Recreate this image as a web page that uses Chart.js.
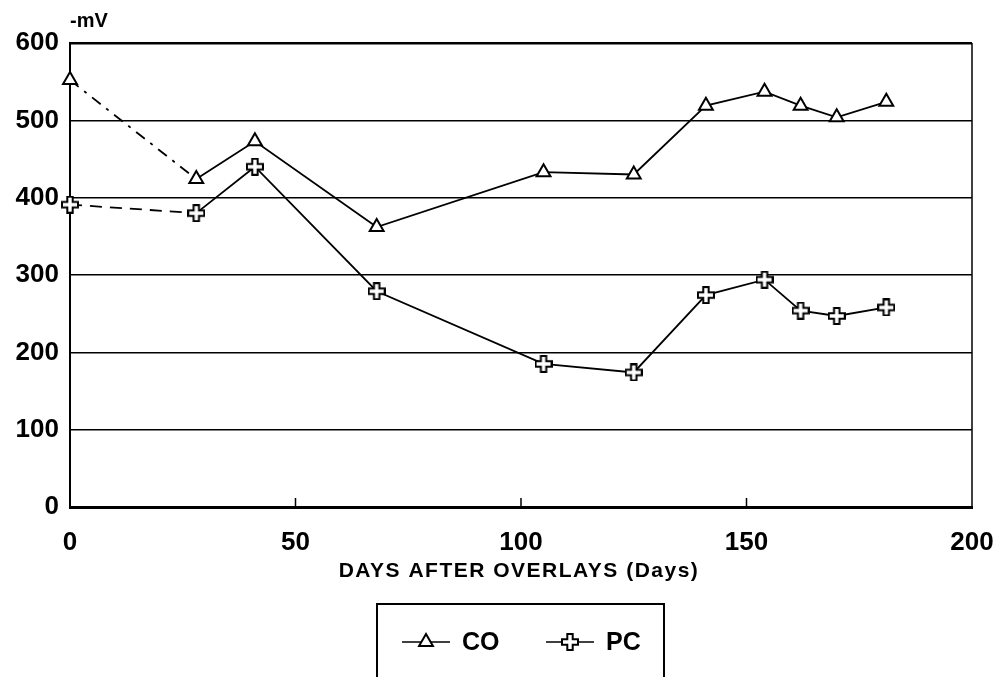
<!DOCTYPE html>
<html>
<head>
<meta charset="utf-8">
<script src="https://cdn.jsdelivr.net/npm/chart.js@4.4.0/dist/chart.umd.min.js"></script>
<style>
  html, body { margin: 0; padding: 0; background: #fff; }
  #wrap { position: relative; width: 1005px; height: 677px; }
</style>
</head>
<body>
<div id="wrap"><canvas id="potential"></canvas></div>
<script>
const days = [0, 28, 41, 68, 105, 125, 141, 154, 162, 170, 181];
const coValues = [552, 424, 473, 362, 433, 430, 519, 537, 519, 504, 524];
const pcValues = [391, 380, 440, 279, 185, 174, 274, 294, 254, 247, 258];
const xTicks = [0, 50, 100, 150, 200];
const seriesNames = ['CO', 'PC'];
const unitLabel = '-mV';
const xTitle = 'DAYS AFTER OVERLAYS (Days)';

const FONT = '"Liberation Sans", Arial, sans-serif';

// hollow plus sign used as the PC marker
function plusMarker(size) {
  const c = document.createElement('canvas');
  c.width = size; c.height = size;
  const g = c.getContext('2d');
  const m = size / 2, a = size * 0.15, e = size / 2 - 1;
  g.beginPath();
  g.moveTo(m - a, m - e); g.lineTo(m + a, m - e); g.lineTo(m + a, m - a);
  g.lineTo(m + e, m - a); g.lineTo(m + e, m + a); g.lineTo(m + a, m + a);
  g.lineTo(m + a, m + e); g.lineTo(m - a, m + e); g.lineTo(m - a, m + a);
  g.lineTo(m - e, m + a); g.lineTo(m - e, m - a); g.lineTo(m - a, m - a);
  g.closePath();
  g.fillStyle = '#fff';
  g.fill();
  g.lineWidth = 2;
  g.strokeStyle = '#000';
  g.stroke();
  return c;
}
const plus = plusMarker(18);

const toPoints = vals => vals.map((v, i) => ({ x: days[i], y: v }));

// the first interval (no reading between day 0 and the first survey) is dashed
const firstGap = pattern => ctx => ctx.p0DataIndex === 0 ? pattern : undefined;

// right border, inward x ticks, unit label, axis title and boxed legend
const extras = {
  id: 'extras',
  afterDraw(chart) {
    const { ctx, chartArea: a, scales: { x } } = chart;
    ctx.save();
    ctx.strokeStyle = '#000';
    ctx.lineWidth = 1.5;
    ctx.beginPath();
    ctx.moveTo(a.right, a.top);
    ctx.lineTo(a.right, a.bottom);
    ctx.stroke();

    xTicks.slice(1, -1).forEach(v => {
      const px = x.getPixelForValue(v);
      ctx.beginPath();
      ctx.moveTo(px, a.bottom);
      ctx.lineTo(px, a.bottom - 9);
      ctx.stroke();
    });

    ctx.fillStyle = '#000';
    ctx.font = 'bold 20px ' + FONT;
    ctx.textAlign = 'left';
    ctx.textBaseline = 'middle';
    ctx.fillText(unitLabel, a.left, 21);

    ctx.font = 'bold 21px ' + FONT;
    ctx.letterSpacing = '1.5px';
    ctx.textAlign = 'center';
    ctx.fillText(xTitle, (a.left + a.right) / 2 - 2, 571);
    ctx.letterSpacing = '0px';

    // legend box, open at the bottom edge of the page
    ctx.lineWidth = 2;
    ctx.beginPath();
    ctx.moveTo(377, 690);
    ctx.lineTo(377, 604);
    ctx.lineTo(664, 604);
    ctx.lineTo(664, 690);
    ctx.stroke();

    const slots = [402, 546];
    chart.data.datasets.forEach((ds, i) => {
      const x0 = slots[i], y0 = 642;
      ctx.lineWidth = 1.6;
      ctx.strokeStyle = '#000';
      ctx.beginPath();
      ctx.moveTo(x0, y0);
      ctx.lineTo(x0 + 48, y0);
      ctx.stroke();
      ctx.fillStyle = '#fff';
      ctx.lineWidth = ds.pointBorderWidth;
      Chart.helpers.drawPoint(ctx, {
        pointStyle: ds.pointStyle, radius: ds.pointRadius,
        borderWidth: ds.pointBorderWidth
      }, x0 + 24, y0);
      ctx.fillStyle = '#000';
      ctx.font = 'bold 25px ' + FONT;
      ctx.textAlign = 'left';
      ctx.fillText(ds.label, x0 + 60, y0 + 1);
    });
    ctx.restore();
  }
};

new Chart(document.getElementById('potential'), {
  type: 'line',
  data: {
    datasets: [
      {
        label: seriesNames[0],
        data: toPoints(coValues),
        borderColor: '#000',
        borderWidth: 1.8,
        clip: false,
        pointStyle: 'triangle',
        pointRadius: 8,
        pointBorderWidth: 2,
        pointBackgroundColor: '#fff',
        pointBorderColor: '#000',
        segment: { borderDash: firstGap([11, 7, 3, 7]) }
      },
      {
        label: seriesNames[1],
        data: toPoints(pcValues),
        borderColor: '#000',
        borderWidth: 1.8,
        clip: false,
        pointStyle: plus,
        pointRadius: 9,
        pointBorderWidth: 2,
        pointBackgroundColor: '#fff',
        pointBorderColor: '#000',
        segment: { borderDash: firstGap([12, 8]) }
      }
    ]
  },
  options: {
    responsive: true,
    maintainAspectRatio: false,
    animation: false,
    layout: { padding: { top: 43, right: 33, left: 0, bottom: 0 } },
    plugins: { legend: { display: false }, tooltip: { enabled: false } },
    scales: {
      x: {
        type: 'linear',
        min: 0,
        max: 200,
        afterBuildTicks: s => { s.ticks = xTicks.map(v => ({ value: v })); },
        afterFit: s => { s.height = 170; s.paddingLeft = 0; s.paddingRight = 0; },
        grid: { display: false },
        border: { color: '#000', width: 3 },
        ticks: {
          color: '#000',
          padding: 12,
          maxRotation: 0,
          font: { family: FONT, size: 26, weight: 'bold' }
        }
      },
      y: {
        min: 0,
        max: 600,
        afterFit: s => { s.width = 70; s.paddingTop = 0; s.paddingBottom = 0; },
        grid: {
          color: '#000',
          lineWidth: c => c.tick.value === 600 ? 2.5 : 1.4,
          drawTicks: false
        },
        border: { color: '#000', width: 2 },
        ticks: {
          stepSize: 100,
          color: '#000',
          padding: 11,
          font: { family: FONT, size: 26, weight: 'bold' }
        }
      }
    }
  },
  plugins: [extras]
});
</script>
</body>
</html>
